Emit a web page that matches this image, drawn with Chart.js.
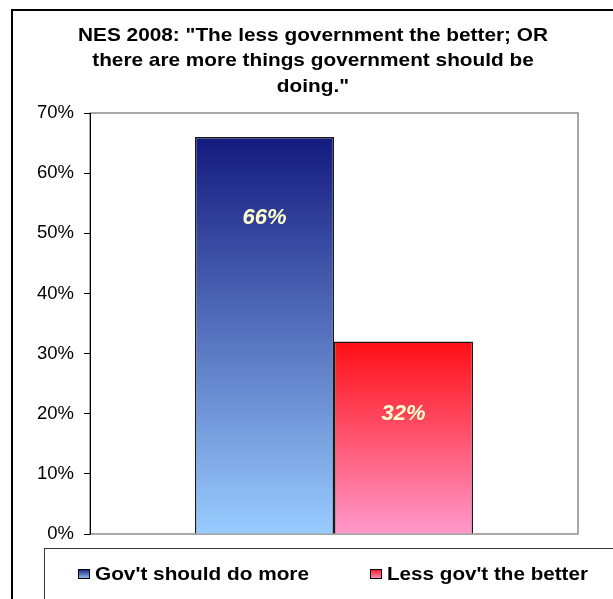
<!DOCTYPE html>
<html>
<head>
<meta charset="utf-8">
<script src="https://cdn.jsdelivr.net/npm/chart.js@4/dist/chart.umd.min.js"></script>
<style>
  html, body { margin: 0; padding: 0; background: #fff; }
  #wrap { width: 613px; height: 599px; }
</style>
</head>
<body>
<div id="wrap"><canvas id="chart" width="613" height="599"></canvas></div>
<script>
// valores
var titleLines = ['NES 2008: "The less government the better; OR', 'there are more things government should be', 'doing."'];
var categories = [''];
var seriesNames = ["Gov't should do more", "Less gov't the better"];
var govMore = [66];
var govLess = [32];
var labelAt = [52.6, 19.9]; // altura (em %) onde o rótulo aparece dentro da barra
var yTicks = [0, 10, 20, 30, 40, 50, 60, 70];

var gradTop = ['#141a7e', '#ff0f14'];
var gradBottom = ['#99ccff', '#ff99cc'];
var FONT = 'Arial, "Liberation Sans", sans-serif';

function barFill(ctx) {
    var chart = ctx.chart;
    var i = ctx.datasetIndex;
    if (!chart.chartArea || !chart.scales.y) return gradBottom[i];
    var y0 = chart.scales.y.getPixelForValue(ctx.raw);
    var y1 = chart.scales.y.getPixelForValue(0);
    var g = chart.ctx.createLinearGradient(0, y0, 0, y1);
    g.addColorStop(0, gradTop[i]);
    g.addColorStop(1, gradBottom[i]);
    return g;
}

// escreve texto esticado na horizontal até a largura pedida
function stretchedText(c, txt, x, y, width, align) {
    var w = c.measureText(txt).width;
    var k = width ? width / w : 1;
    c.save();
    c.translate(x, y);
    c.scale(k, 1);
    c.textAlign = align;
    c.fillText(txt, 0, 0);
    c.restore();
    return k;
}

var frame = {
    id: 'frame',
    beforeDraw: function(chart) {
        var c = chart.ctx, a = chart.chartArea;
        c.save();
        // moldura externa
        c.strokeStyle = '#000';
        c.lineWidth = 2;
        c.strokeRect(12, 10, 700, 700);
        // título
        c.fillStyle = '#000';
        c.font = 'bold 19px ' + FONT;
        c.textBaseline = 'alphabetic';
        var k = 470 / c.measureText(titleLines[0]).width;
        var ys = [41, 66, 92];
        titleLines.forEach(function(t, n) {
            stretchedText(c, t, 313, ys[n], c.measureText(t).width * k, 'center');
        });
        // área do gráfico
        c.strokeStyle = '#8c8c8c';
        c.lineWidth = 1.5;
        c.strokeRect(a.left, a.top, a.right - a.left, a.bottom - a.top);
        c.restore();
    },
    afterDraw: function(chart) {
        var c = chart.ctx, a = chart.chartArea;
        c.save();
        // eixo Y preto
        c.strokeStyle = '#000';
        c.lineWidth = 1;
        c.beginPath();
        c.moveTo(a.left + 0.5, a.top);
        c.lineTo(a.left + 0.5, a.bottom + 0.5);
        c.stroke();

        // rótulos das barras
        c.font = 'italic bold 22px ' + FONT;
        c.fillStyle = '#ffffcc';
        c.textAlign = 'center';
        c.textBaseline = 'middle';
        chart.data.datasets.forEach(function(ds, i) {
            var bar = chart.getDatasetMeta(i).data[0];
            var y = chart.scales.y.getPixelForValue(labelAt[i]);
            c.fillText(ds.data[0] + '%', bar.x, y);
        });

        // legenda
        c.strokeStyle = '#333';
        c.lineWidth = 1;
        c.strokeRect(44.5, 548.5, 700, 100);
        var lx = [78, 370];
        var tx = [95, 387];
        var tw = [214, 201];
        c.font = 'bold 18px ' + FONT;
        c.textBaseline = 'alphabetic';
        chart.data.datasets.forEach(function(ds, i) {
            var g = c.createLinearGradient(0, 569, 0, 579);
            g.addColorStop(0, gradTop[i]);
            g.addColorStop(1, gradBottom[i]);
            c.fillStyle = g;
            c.fillRect(lx[i], 569, 12, 10);
            c.strokeStyle = '#000';
            c.strokeRect(lx[i] + 0.5, 569.5, 11, 9);
            c.fillStyle = '#000';
            stretchedText(c, ds.label, tx[i], 580, tw[i], 'left');
        });
        c.restore();
    }
};

new Chart(document.getElementById('chart'), {
    type: 'bar',
    data: {
        labels: categories,
        datasets: [
            { label: seriesNames[0], data: govMore, backgroundColor: barFill, borderColor: '#1a1a1a', borderWidth: 1.5 },
            { label: seriesNames[1], data: govLess, backgroundColor: barFill, borderColor: '#1a1a1a', borderWidth: 1.5 }
        ]
    },
    options: {
        responsive: false,
        animation: false,
        events: [],
        layout: { padding: { top: 113, bottom: 65, left: 0, right: 35 } },
        datasets: { bar: { categoryPercentage: 0.57, barPercentage: 1.0 } },
        plugins: {
            legend: { display: false },
            title: { display: false },
            tooltip: { enabled: false }
        },
        scales: {
            x: { display: false },
            y: {
                min: 0, max: 70,
                afterBuildTicks: function(s) { s.ticks = yTicks.map(function(v) { return { value: v }; }); },
                afterFit: function(s) { s.width = 90; s.paddingTop = 0; s.paddingBottom = 0; },
                border: { display: false },
                grid: { drawOnChartArea: false, drawTicks: true, tickLength: 6, color: '#000' },
                ticks: {
                    padding: 10,
                    color: '#000',
                    font: { family: FONT, size: 18.5 },
                    callback: function(v) { return v + '%'; }
                }
            }
        }
    },
    plugins: [frame]
});
</script>
</body>
</html>
